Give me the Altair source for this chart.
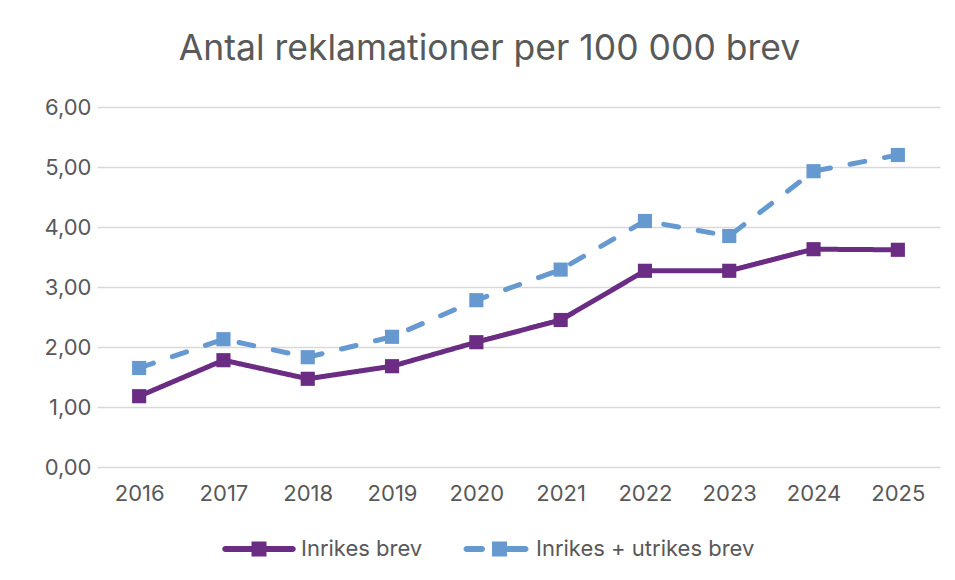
import altair as alt
import pandas as pd

years = ["2016", "2017", "2018", "2019", "2020", "2021", "2022", "2023", "2024", "2025"]
inrikes = [1.18, 1.78, 1.47, 1.68, 2.08, 2.45, 3.27, 3.27, 3.63, 3.62]
inrikes_utrikes = [1.65, 2.13, 1.83, 2.17, 2.78, 3.29, 4.10, 3.85, 4.93, 5.20]
series_names = ["Inrikes brev", "Inrikes + utrikes brev"]
y_ticks = [0, 1, 2, 3, 4, 5, 6]

rows = []
for y, v in zip(years, inrikes):
    rows.append({"year": y, "series": series_names[0], "value": v})
for y, v in zip(years, inrikes_utrikes):
    rows.append({"year": y, "series": series_names[1], "value": v})
df = pd.DataFrame(rows)

FONT = "Inter"
TXT = "#595959"
PURPLE = "#6B2D84"
BLUE = "#6699CF"

solid_path = ("M-2.25,-0.2H2.25A0.2,0.2 0 0 1 2.25,0.2H-2.25A0.2,0.2 0 0 1 -2.25,-0.2Z "
              "M-0.5,-0.5H0.5V0.5H-0.5Z")
dashed_path = ("M-1.83,-0.2H-0.8A0.2,0.2 0 0 1 -0.8,0.2H-1.83A0.2,0.2 0 0 1 -1.83,-0.2Z "
               "M-0.13,-0.5H0.87V0.5H-0.13Z "
               "M0.87,-0.2H2.1A0.2,0.2 0 0 1 2.1,0.2H0.87Z")

color_scale = alt.Scale(domain=series_names, range=[PURPLE, BLUE])

x_enc = alt.X("year:N", sort=years,
              scale=alt.Scale(paddingInner=0, paddingOuter=0),
              axis=alt.Axis(title=None, labelAngle=0, labelFontSize=22, labelColor=TXT,
                            labelFont=FONT, labelPadding=16, ticks=False, domain=False,
                            grid=False))
y_enc = alt.Y("value:Q",
              scale=alt.Scale(domain=[0, 6], nice=False),
              axis=alt.Axis(title=None, values=y_ticks, labelFontSize=22, labelColor=TXT,
                            labelFont=FONT, labelPadding=6, ticks=False, domain=False,
                            grid=True, gridColor="#D9D9D9", gridWidth=1.5,
                            labelExpr="replace(format(datum.value, '.2f'), '.', ',')"))

base = alt.Chart(df)

lines = base.mark_line(strokeWidth=5, strokeCap="round").encode(
    x=x_enc, y=y_enc,
    color=alt.Color("series:N", scale=color_scale, legend=None),
    strokeDash=alt.StrokeDash("series:N",
                              scale=alt.Scale(domain=series_names, range=[[1, 0], [15, 20]]),
                              legend=None),
)

points = base.mark_point(shape="square", filled=True, size=200, opacity=1).encode(
    x=x_enc, y=y_enc,
    color=alt.Color("series:N", scale=color_scale, legend=None),
)

legend_def = alt.Legend(title=None, orient="none", legendX=147, legendY=427,
                        direction="horizontal", labelFontSize=22, labelColor=TXT,
                        labelFont=FONT, labelOffset=27, columnPadding=40,
                        labelLimit=500, symbolSize=900, symbolOpacity=1,
                        symbolStrokeWidth=0, padding=0)

legend_layer = base.mark_point(filled=True, size=900, opacity=1, clip=True).encode(
    x=x_enc,
    y=alt.value(-2000),
    color=alt.Color("series:N", scale=color_scale, legend=legend_def),
    shape=alt.Shape("series:N",
                    scale=alt.Scale(domain=series_names, range=[solid_path, dashed_path]),
                    legend=legend_def),
)

chart = alt.layer(lines, points, legend_layer).resolve_legend(
    color="independent", shape="independent", strokeDash="independent"
).properties(
    width=843, height=360,
    autosize="none",
    padding={"left": 89, "top": 99, "right": 7, "bottom": 100},
    background="white",
    title=alt.TitleParams("Antal reklamationer per 100 000 brev", fontSize=35.5,
                          font=FONT, fontWeight="normal", color=TXT, anchor="middle",
                          dx=-29, offset=1, baseline="alphabetic"),
).configure_view(stroke=None)

chart.save("out.html", embed_options={"renderer": "svg", "actions": False})
